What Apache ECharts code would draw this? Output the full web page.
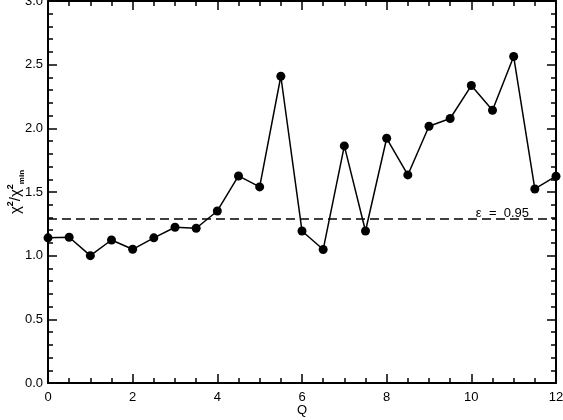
<!DOCTYPE html>
<html>
<head>
<meta charset="utf-8">
<script src="https://cdn.jsdelivr.net/npm/echarts@6/dist/echarts.min.js"></script>
<style>
  html, body { margin: 0; padding: 0; background: #fff; }
  #chart { width: 563px; height: 420px; }
</style>
</head>
<body>
<div id="chart"></div>
<script>
// Q 取值与 χ²/χ²min
const qValues = [0, 0.5, 1, 1.5, 2, 2.5, 3, 3.5, 4, 4.5, 5, 5.5, 6, 6.5, 7, 7.5, 8, 8.5, 9, 9.5, 10, 10.5, 11, 11.5, 12];
const chiRatio = [1.14, 1.145, 1.0, 1.123, 1.05, 1.14, 1.223, 1.215, 1.351, 1.626, 1.54, 2.409,
                  1.194, 1.048, 1.862, 1.194, 1.922, 1.634, 2.016, 2.077, 2.336, 2.142, 2.564, 1.524, 1.624];
const yTickLabels = ['0.0', '0.5', '1.0', '1.5', '2.0', '2.5', '3.0'];
const xTickLabels = ['0', '2', '4', '6', '8', '10', '12'];
const thresholdValue = 1.288;
const thresholdLabel = 'ε  =  0.95';

function initChiChart() {
    const chartDom = document.getElementById('chart');
    const chart = echarts.init(chartDom);
    const font = 'Liberation Sans, Arial, sans-serif';

    const tickStyle = { color: '#000', width: 1.5 };
    const baseX = {
        type: 'value', min: 0, max: 12, interval: 2,
        axisLine: { show: true, onZero: false, lineStyle: { color: '#000', width: 2 } },
        axisTick: { inside: true, length: 9, lineStyle: tickStyle },
        minorTick: { show: true, splitNumber: 4, length: 5, lineStyle: tickStyle },
        splitLine: { show: false }
    };
    const baseY = {
        type: 'value', min: 0, max: 3, interval: 0.5,
        axisLine: { show: true, onZero: false, lineStyle: { color: '#000', width: 2 } },
        axisTick: { inside: true, length: 9, lineStyle: tickStyle },
        minorTick: { show: true, splitNumber: 5, length: 5, lineStyle: tickStyle },
        splitLine: { show: false }
    };

    const option = {
        animation: false,
        backgroundColor: '#fff',
        grid: { left: 48, right: 7, top: 1, bottom: 37, containLabel: false, outerBoundsMode: 'none' },
        xAxis: [
            Object.assign({}, baseX, {
                position: 'bottom',
                name: 'Q',
                nameLocation: 'middle',
                nameGap: 21,
                nameMoveOverlap: false,
                nameTextStyle: { color: '#000', fontSize: 13, fontFamily: font },
                axisLabel: {
                    color: '#000', fontSize: 13, fontFamily: font, margin: 8,
                    formatter: v => xTickLabels[Math.round(v / 2)]
                }
            }),
            Object.assign({}, baseX, { position: 'top', axisLabel: { show: false } })
        ],
        yAxis: [
            Object.assign({}, baseY, {
                position: 'left',
                name: '{a|χ}{s|2}{a|/χ}{s|2}{m|min}',
                nameLocation: 'middle',
                nameGap: 22,
                nameMoveOverlap: false,
                nameTextStyle: {
                    color: '#000', fontFamily: font,
                    rich: {
                        a: { fontSize: 15, fontFamily: font, color: '#000', lineHeight: 20, verticalAlign: 'middle' },
                        s: { fontSize: 9, fontWeight: 'bold', fontFamily: font, color: '#000', lineHeight: 20, verticalAlign: 'top', padding: [0, 0, 8, 0] },
                        m: { fontSize: 8, fontWeight: 'bold', fontFamily: font, color: '#000', lineHeight: 20, verticalAlign: 'bottom', padding: [6, 0, 0, 0] }
                    }
                },
                axisLabel: {
                    color: '#000', fontSize: 13, fontFamily: font, margin: 5,
                    formatter: v => yTickLabels[Math.round(v / 0.5)]
                }
            }),
            Object.assign({}, baseY, { position: 'right', axisLabel: { show: false } })
        ],
        series: [
            {
                type: 'line',
                data: qValues.map((q, i) => [q, chiRatio[i]]),
                symbol: 'circle',
                symbolSize: 9,
                showAllSymbol: true,
                clip: true,
                lineStyle: { color: '#000', width: 1.5 },
                itemStyle: { color: '#000' },
                markLine: {
                    silent: true,
                    symbol: 'none',
                    lineStyle: { color: '#000', width: 1.5, type: [9, 5] },
                    label: {
                        show: true,
                        position: 'insideEndTop',
                        formatter: thresholdLabel,
                        color: '#000', fontSize: 13, fontFamily: font,
                        distance: [27, -1]
                    },
                    data: [{ yAxis: thresholdValue }]
                }
            }
        ]
    };

    chart.setOption(option);
    window.addEventListener('resize', () => chart.resize());
}

document.addEventListener('DOMContentLoaded', function () {
    if (typeof echarts === 'undefined') {
        console.error('ECharts未正确加载！');
        return;
    }
    initChiChart();
});
</script>
</body>
</html>
